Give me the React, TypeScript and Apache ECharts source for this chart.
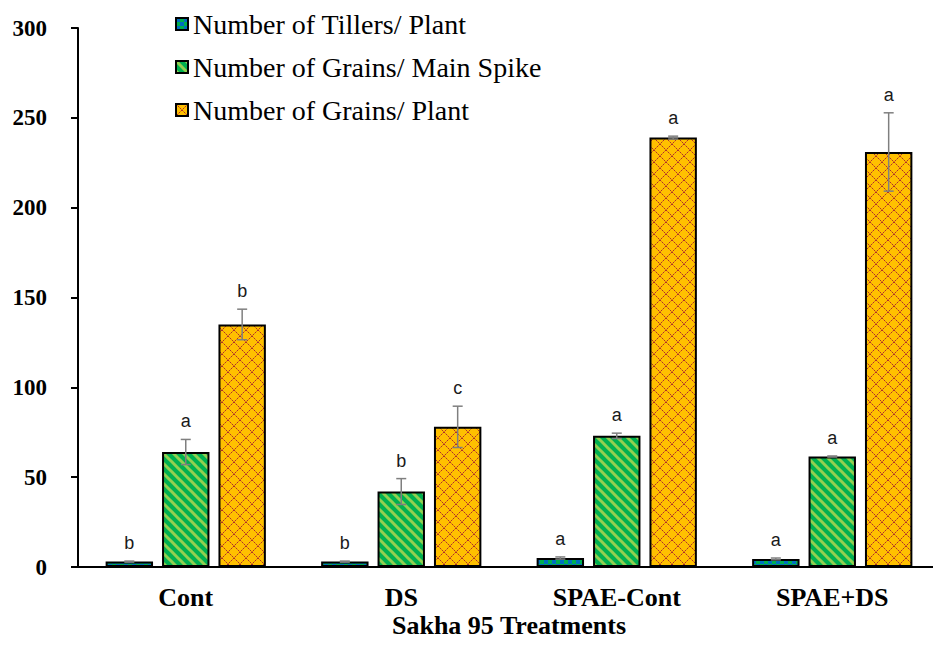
import React, { useEffect, useRef } from "react";
import * as echarts from "echarts";

const categories = ["Cont", "DS", "SPAE-Cont", "SPAE+DS"];
const seriesNames = [
  "Number of Tillers/ Plant",
  "Number of Grains/ Main Spike",
  "Number of Grains/ Plant",
];
const tillers = [3, 3, 5, 4.5];
const tillersErr = [0.3, 0.3, 0.6, 0.5];
const tillersLetters = ["b", "b", "a", "a"];
const grainsSpike = [64, 42, 73, 61.5];
const grainsSpikeErr = [7, 7.2, 1.5, 0.3];
const grainsSpikeLetters = ["a", "b", "a", "a"];
const grainsPlant = [135, 78, 239, 231];
const grainsPlantErr = [8.5, 11.5, 0.8, 21.8];
const grainsPlantLetters = ["b", "c", "a", "a"];
const yTicks = [0, 50, 100, 150, 200, 250, 300];

const SERIF = "'Liberation Serif', 'Times New Roman', serif";

function makeTillerPattern() {
  const c = document.createElement("canvas");
  c.width = 8;
  c.height = 8;
  const g = c.getContext("2d")!;
  g.fillStyle = "#00B050";
  g.fillRect(0, 0, 8, 8);
  g.fillStyle = "#0070C0";
  g.fillRect(0, 0, 4, 4);
  g.fillRect(4, 4, 4, 4);
  return c;
}

function makeStripePattern() {
  const c = document.createElement("canvas");
  c.width = 10;
  c.height = 10;
  const g = c.getContext("2d")!;
  g.fillStyle = "#00B050";
  g.fillRect(0, 0, 10, 10);
  g.strokeStyle = "#92D050";
  g.lineWidth = 3;
  for (const k of [-10, 0, 10]) {
    g.beginPath();
    g.moveTo(-2, k - 2);
    g.lineTo(12, k + 12);
    g.stroke();
  }
  return c;
}

function makeTrellisPattern() {
  const c = document.createElement("canvas");
  const n = 12;
  c.width = n;
  c.height = n;
  const g = c.getContext("2d")!;
  g.fillStyle = "#FFC000";
  g.fillRect(0, 0, n, n);
  for (let i = 0; i < n; i++) {
    g.fillStyle = i % 2 === 0 ? "#B0302A" : "rgba(176,48,42,0.45)";
    g.fillRect(i, i, 1, 1);
    g.fillRect(n - 1 - i, i, 1, 1);
  }
  return c;
}

const BAR_W = 0.22;
const BAR_GAP = 0.19;

export default function App() {
  const ref = useRef<HTMLDivElement>(null);
  useEffect(() => {
    if (!ref.current) return;
    const chart = echarts.init(ref.current, null, { renderer: "svg" });
    const patterns = [makeTillerPattern(), makeStripePattern(), makeTrellisPattern()];
    const values = [tillers, grainsSpike, grainsPlant];
    const errs = [tillersErr, grainsSpikeErr, grainsPlantErr];
    const letters = [tillersLetters, grainsSpikeLetters, grainsPlantLetters];

    const barSeries = values.map((vals, k) => ({
      name: seriesNames[k],
      type: "bar",
      data: vals,
      barWidth: BAR_W * 100 + "%",
      barGap: BAR_GAP * 100 + "%",
      itemStyle: {
        color: { image: patterns[k], repeat: "repeat" },
        borderColor: "#000",
        borderWidth: 2,
      },
      z: 2,
    }));

    const errSeries = values.map((vals, k) => ({
      name: "err" + k,
      type: "custom",
      z: 5,
      encode: { x: 0, y: 1 },
      data: vals.map((v, i) => [i, v, errs[k][i]]),
      renderItem: (params: any, api: any) => {
        const ci = api.value(0);
        const v = api.value(1);
        const e = api.value(2);
        const center = api.coord([ci, v]);
        const cw = api.size([1, 0])[0];
        const bw = cw * BAR_W;
        const gap = bw * BAR_GAP;
        const x = center[0] + (k - 1) * (bw + gap);
        const top = api.coord([ci, v + e])[1];
        const bot = api.coord([ci, v - e])[1];
        const st = { stroke: "#7F7F7F", lineWidth: 1.5 };
        const cap = 5;
        return {
          type: "group",
          children: [
            { type: "line", shape: { x1: x, y1: top, x2: x, y2: bot }, style: st },
            { type: "line", shape: { x1: x - cap, y1: top, x2: x + cap, y2: top }, style: st },
            { type: "line", shape: { x1: x - cap, y1: bot, x2: x + cap, y2: bot }, style: st },
            {
              type: "text",
              style: {
                text: letters[k][params.dataIndex],
                x: x,
                y: top - 9,
                align: "center",
                verticalAlign: "bottom",
                fontSize: 18,
                fontFamily: "'Liberation Sans', Arial, sans-serif",
                fill: "#1a1a1a",
              },
            },
          ],
        };
      },
    }));

    chart.setOption({
      animation: false,
      backgroundColor: "#fff",
      grid: {
        left: 78,
        top: 28,
        bottom: 82,
        right: -7,
        containLabel: false,
        outerBoundsMode: "none",
      },
      legend: {
        data: seriesNames,
        orient: "vertical",
        left: 170,
        top: 5,
        icon: "rect",
        itemWidth: 12,
        itemHeight: 12,
        itemGap: 15,
        textStyle: {
          fontFamily: SERIF,
          fontSize: 28,
          color: "#000",
          lineHeight: 28,
        },
      },
      xAxis: {
        type: "category",
        data: categories,
        name: "Sakha 95 Treatments",
        nameLocation: "middle",
        nameGap: 45,
        nameMoveOverlap: false,
        nameTextStyle: {
          fontFamily: SERIF,
          fontSize: 26,
          fontWeight: "bold",
          color: "#000",
        },
        axisLine: { lineStyle: { color: "#000", width: 2 } },
        axisTick: { alignWithLabel: true, length: 5, lineStyle: { color: "#000", width: 2 } },
        axisLabel: {
          margin: 17,
          fontFamily: SERIF,
          fontSize: 26,
          fontWeight: "bold",
          color: "#000",
        },
      },
      yAxis: {
        type: "value",
        min: 0,
        max: 300,
        interval: 50,
        splitLine: { show: false },
        axisLine: { show: true, lineStyle: { color: "#000", width: 2 } },
        axisTick: { show: true, length: 7, lineStyle: { color: "#000", width: 2 } },
        axisLabel: {
          margin: 31,
          fontFamily: SERIF,
          fontSize: 23,
          fontWeight: "bold",
          color: "#000",
          formatter: (v: number) => (yTicks.includes(v) ? String(v) : ""),
        },
      },
      series: [...barSeries, ...errSeries],
    });
    return () => chart.dispose();
  }, []);
  return (
    <div
      ref={ref}
      style={{ position: "absolute", left: 0, top: 0, width: 933, height: 649 }}
    />
  );
}
